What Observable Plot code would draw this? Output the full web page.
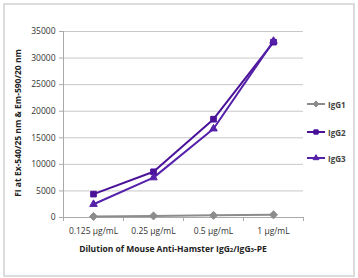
<!DOCTYPE html>
<html><head><meta charset="utf-8">
<script src="https://cdn.jsdelivr.net/npm/d3@7"></script>
<script src="https://cdn.jsdelivr.net/npm/@observablehq/plot@0.6"></script>
<style>
html,body{margin:0;padding:0;background:#fff;}
#wrap{position:relative;width:358px;height:278px;overflow:hidden;font-family:"Open Sans",sans-serif;}
#frame{position:absolute;left:3px;top:3px;width:348px;height:270px;border:2px solid #dcdcdc;pointer-events:none;}
#legend{position:absolute;left:306px;top:0;font-size:8px;font-weight:bold;color:#444;}
.li{position:absolute;left:0;display:flex;align-items:center;white-space:nowrap;}
.li svg{margin-right:2px;display:block;}
</style></head>
<body><div id="wrap"><div id="frame"></div><div id="legend"></div></div>
<script>
const categories = ["0.125 µg/mL", "0.25 µg/mL", "0.5 µg/mL", "1 µg/mL"];
const series = ["IgG1", "IgG2", "IgG3"];
const igg1 = [200, 300, 400, 500];
const igg2 = [4400, 8600, 18500, 33000];
const igg3 = [2500, 7500, 16700, 33200];
const yTicks = [0, 5000, 10000, 15000, 20000, 25000, 30000, 35000];
const colors = {IgG1: "#8c8c8c", IgG2: "#4a1199", IgG3: "#5520aa"};
const symbols = {IgG1: "diamond2", IgG2: "square2", IgG3: "triangle2"};
const d3symbols = {IgG1: d3.symbolDiamond2, IgG2: d3.symbolSquare2, IgG3: d3.symbolTriangle2};

const values = {IgG1: igg1, IgG2: igg2, IgG3: igg3};
const data = [];
for (const s of series) values[s].forEach((v, i) => data.push({series: s, i, v}));
const idx = categories.map((_, i) => i);
const bounds = [-0.5, ...idx.map(i => i + 0.5)];

const plot = Plot.plot({
  width: 358, height: 278,
  marginLeft: 63, marginRight: 55, marginTop: 31, marginBottom: 61,
  style: {fontFamily: "Open Sans, sans-serif", fontSize: "8.5px", color: "#333", background: "transparent"},
  x: {domain: [-0.5, categories.length - 0.5], axis: null},
  y: {domain: [0, 35000], axis: null},
  marks: [
    Plot.gridY(yTicks, {stroke: "#c8c8c8", strokeOpacity: 1, strokeWidth: 1}),
    Plot.ruleX([-0.5], {stroke: "#aaa", y1: 0, y2: 35000}),
    Plot.ruleY([0], {stroke: "#aaa"}),
    Plot.axisY({ticks: yTicks, tickFormat: d3.format("d"), tickSize: 4, tickPadding: 4, stroke: "#aaa", label: null, fill: "#333"}),
    Plot.axisX({ticks: bounds, tickFormat: () => "", tickSize: 4, stroke: "#aaa", label: null}),
    Plot.axisX({ticks: idx, tickFormat: i => categories[i], tickSize: 0, tickPadding: 10, label: null, fill: "#333"}),
    Plot.lineY(data, {x: "i", y: "v", z: "series", stroke: d => colors[d.series], strokeWidth: 2}),
    Plot.dot(data, {x: "i", y: "v", symbol: d => symbols[d.series], fill: d => colors[d.series], stroke: d => colors[d.series], strokeWidth: 1, r: 3.6})
  ]
});
document.getElementById("wrap").prepend(plot);

const svg = d3.select(plot);
svg.append("text")
  .attr("transform", "translate(19,123) rotate(-90)")
  .attr("text-anchor", "middle").attr("dominant-baseline", "middle")
  .attr("font-weight", "bold").attr("font-size", "8.5px").attr("fill", "#222")
  .text("FI at Ex-540/25 nm & Em-590/20 nm");
const xt = svg.append("text")
  .attr("x", 173).attr("y", 250)
  .attr("text-anchor", "middle").attr("dominant-baseline", "middle")
  .attr("font-weight", "bold").attr("font-size", "8.5px").attr("fill", "#222");
xt.append("tspan").text("Dilution of Mouse Anti-Hamster IgG");
xt.append("tspan").attr("font-size", "6px").text("2");
xt.append("tspan").text("/IgG");
xt.append("tspan").attr("font-size", "6px").text("3");
xt.append("tspan").text("-PE");

const legend = d3.select("#legend");
const tops = [104, 132, 158];
series.forEach((s, k) => {
  const row = legend.append("div").attr("class", "li").style("top", (tops[k] - 6) + "px");
  const sw = row.append("svg").attr("width", 20).attr("height", 12);
  sw.append("line").attr("x1", 1).attr("x2", 19).attr("y1", 6).attr("y2", 6)
    .attr("stroke", colors[s]).attr("stroke-width", 2);
  sw.append("path").attr("transform", "translate(10,6)")
    .attr("d", d3.symbol(d3symbols[s], 24)()).attr("fill", colors[s]).attr("stroke", colors[s]);
  row.append("span").text(s);
});
</script></body></html>
